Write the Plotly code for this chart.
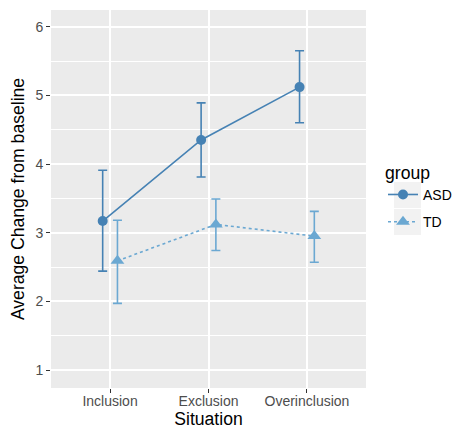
import plotly.graph_objects as go

situations = ["Inclusion", "Exclusion", "Overinclusion"]
groups = ["ASD", "TD"]
asd_mean = [3.17, 4.35, 5.12]
asd_upper = [3.91, 4.89, 5.65]
asd_lower = [2.44, 3.81, 4.60]
td_mean = [2.59, 3.12, 2.95]
td_upper = [3.18, 3.49, 3.31]
td_lower = [1.97, 2.74, 2.57]

colors = {"ASD": "#4682B4", "TD": "#6BA8D2"}
symbols = {"ASD": "circle", "TD": "triangle-up"}
dashes = {"ASD": "solid", "TD": "3px,3px"}
offsets = {"ASD": -0.075, "TD": 0.075}
series = {
    "ASD": (asd_mean, asd_upper, asd_lower),
    "TD": (td_mean, td_upper, td_lower),
}

fig = go.Figure()
for g in groups:
    mean, up, lo = series[g]
    xs = [i + 1 + offsets[g] for i in range(len(situations))]
    fig.add_trace(go.Scatter(
        x=xs, y=mean, name=g, legendgroup=g, mode="lines+markers",
        line=dict(color=colors[g], width=1.6, dash=dashes[g]),
        marker=dict(symbol=symbols[g], size=10 if g == "ASD" else 12, color=colors[g]),
        error_y=dict(type="data", symmetric=False,
                     array=[u - m for u, m in zip(up, mean)],
                     arrayminus=[m - l for m, l in zip(mean, lo)],
                     color=colors[g], thickness=1.6, width=4.5),
    ))

W, H = 454, 430
L, R, T, B = 51, 88, 10, 42

shapes = []
for (y0, y1) in [(182, 208), (209, 235)]:
    shapes.append(dict(type="rect", xref="paper", yref="paper",
                       x0=(394 - L) / (W - L - R), x1=(421 - L) / (W - L - R),
                       y0=(H - B - y1) / (H - T - B), y1=(H - B - y0) / (H - T - B),
                       fillcolor="#F2F2F2", line=dict(width=0), layer="below"))

fig.update_layout(
    width=W, height=H,
    margin=dict(l=L, r=R, t=T, b=B, pad=0, autoexpand=False),
    paper_bgcolor="white", plot_bgcolor="#EBEBEB",
    font=dict(family="Liberation Sans, Arial, sans-serif", color="black"),
    showlegend=True,
    shapes=shapes,
    legend=dict(
        title=dict(text="group", font=dict(size=17.6, color="black")),
        font=dict(size=14, color="black"),
        xref="container", yref="container",
        x=383 / W, xanchor="left",
        y=1 - 156 / H, yanchor="top",
        bgcolor="rgba(0,0,0,0)", tracegroupgap=6, itemwidth=30,
    ),
    xaxis=dict(
        range=[0.4, 3.6], tickmode="array", tickvals=[1, 2, 3], ticktext=situations,
        showgrid=True, gridcolor="white", gridwidth=1.6, zeroline=False,
        ticks="outside", ticklen=4, tickcolor="#333333", tickwidth=1.2,
        tickfont=dict(size=14, color="#4D4D4D"), automargin=False,
        ticklabelstandoff=-4,
        title=dict(text="Situation", font=dict(size=17.6, color="black"), standoff=2),
        showline=False,
    ),
    yaxis=dict(
        range=[0.738, 6.243], tickmode="linear", tick0=1, dtick=1,
        showgrid=True, gridcolor="white", gridwidth=1.6, zeroline=False,
        ticks="outside", ticklen=4, tickcolor="#333333", tickwidth=1.2,
        tickfont=dict(size=14, color="#4D4D4D"), automargin=False,
        minor=dict(dtick=0.5, tick0=0.5, showgrid=True, gridcolor="white", gridwidth=0.8, ticks=""),
        title=dict(text="Average Change from baseline", font=dict(size=17.6, color="black"), standoff=6),
        showline=False,
    ),
)

fig.write_html("out.html", config={"displayModeBar": False},
               post_script="document.body.style.margin='0px';")
